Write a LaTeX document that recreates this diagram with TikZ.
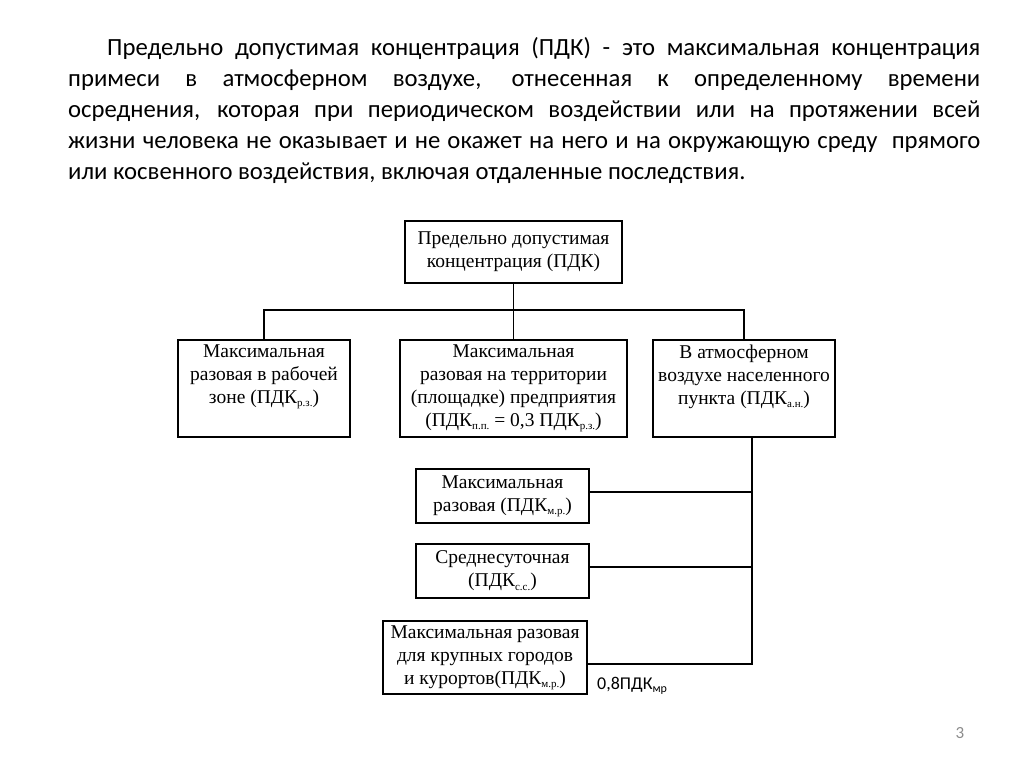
\documentclass[tikz,border=0pt]{standalone}
\usepackage{fontspec}
\setmainfont{Liberation Serif}
\newfontfamily\bodyfont{Carlito}
\usepackage{tikz}
\usetikzlibrary{positioning}

% нижний индекс
\newcommand{\ix}[1]{\raisebox{-0.35ex}{\fontsize{11}{11}\selectfont #1}}

\tikzset{
  blk/.style={draw, line width=1.2pt, inner sep=0pt},
  blktext/.style={align=center, inner sep=0pt, font=\fontsize{19.5}{23}\selectfont},
  wire/.style={line width=1.2pt},
}

\begin{document}
\begin{tikzpicture}[x=1pt,y=-1pt]

\useasboundingbox[fill=white] (0,0) rectangle (1024,767);

% Определение ПДК
\node[anchor=north west, inner sep=0pt, text width=912pt, align=justify,
      font=\bodyfont\fontsize{24.7}{31}\selectfont] (defn) at (68,37)
  {\hyphenpenalty=10000\exhyphenpenalty=10000\hspace*{39pt}Предельно допустимая концентрация (ПДК) - это максимальная концентрация\linebreak
   примеси в атмосферном воздухе, отнесенная к определенному времени\linebreak
   осреднения, которая при периодическом воздействии или на протяжении всей\linebreak
   жизни человека не оказывает и не окажет на него и на окружающую среду\ \ прямого\linebreak
   или косвенного воздействия, включая отдаленные последствия.};

% Верхний блок
\node[blk, blktext, minimum width=217pt, minimum height=62pt] (pdk) at (513.5,252)
  {Предельно допустимая\\ концентрация (ПДК)};

% Второй уровень
\node[blk, minimum width=172pt, minimum height=97pt,
      label={[blktext, anchor=north, yshift=-5pt]north:{Максимальная\\ разовая в рабочей\\ зоне (ПДК\ix{р.з.})}}]
  (zone) at (264,388.5) {};
\node[blk, minimum width=227pt, minimum height=97pt,
      label={[blktext, anchor=north, yshift=-5pt]north:{Максимальная\\ разовая на территории\\ (площадке) предприятия\\ (ПДК\ix{п.п.} = 0,3 ПДК\ix{р.з.})}}]
  (site) at (513.5,388.5) {};
\node[blk, minimum width=182pt, minimum height=97pt,
      label={[blktext, anchor=north, yshift=-5pt]north:{В атмосферном\\ воздухе населенного\\ пункта (ПДК\ix{а.н.})}}]
  (town) at (744,388.5) {};

% Нормативы для населенного пункта
\node[blk, blktext, minimum width=173pt, minimum height=54pt] (single) at (502.5,496)
  {Максимальная\\ разовая (ПДК\ix{м.р.})};
\node[blk, blktext, minimum width=173pt, minimum height=54pt] (daily) at (502.5,571)
  {Среднесуточная\\ (ПДК\ix{с.с.})};
\node[blk, blktext, minimum width=204pt, minimum height=73pt] (city) at (485,657.5)
  {Максимальная разовая\\ для крупных городов\\ и курортов(ПДК\ix{м.р.})};

% Коэффициент
\node[anchor=base west, inner sep=0pt, font=\bodyfont\fontsize{18}{22}\selectfont] (factor) at (597,689)
  {0,8ПДК\raisebox{-0.4ex}{\fontsize{12}{12}\selectfont мр}};

% Линии связи
\coordinate (bus) at (513.5,310);
\draw[wire] (pdk.south) -- (site.north);
\draw[wire] (zone.north) |- (bus) -| (town.north);

\coordinate (trunk) at ([xshift=8pt]town.south);
\draw[wire] (trunk) |- ([yshift=4pt]single.east);
\draw[wire] (trunk) |- ([yshift=4pt]daily.east);
\draw[wire] (trunk) |- ([yshift=-6.5pt]city.east);

% Номер слайда
\node[font=\bodyfont\fontsize{17}{20}\selectfont, text=black!45] (pagenum) at (960,733) {3};

\end{tikzpicture}
\end{document}
